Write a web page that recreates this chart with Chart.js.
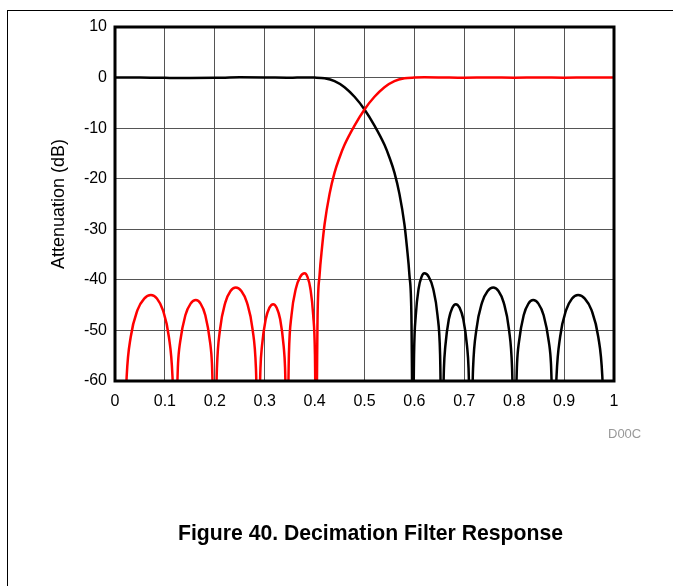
<!DOCTYPE html>
<html>
<head>
<meta charset="utf-8">
<script src="https://cdn.jsdelivr.net/npm/chart.js@4/dist/chart.umd.min.js"></script>
<style>
  body { margin: 0; background: #fff; }
  #wrap { position: relative; width: 673px; height: 586px; overflow: hidden; font-family: "Liberation Sans", Arial, sans-serif; }
  #frame { position: absolute; left: 7px; top: 10px; width: 700px; height: 600px; border-left: 1px solid #000; border-top: 1px solid #000; }
  #chart { position: absolute; left: 0; top: 0; }
  #code { position: absolute; left: 608px; top: 427px; font-size: 13px; line-height: 13px; color: #999; }
  #caption { position: absolute; left: 178px; top: 522px; font-size: 21.2px; line-height: 21px; font-weight: bold; white-space: nowrap; color: #000; }
</style>
</head>
<body>
<div id="wrap">
  <div id="frame"></div>
  <canvas id="chart" width="673" height="586"></canvas>
  <div id="code">D00C</div>
  <div id="caption">Figure 40. Decimation Filter Response</div>
</div>
<script>
// ---------------- data ---------------- //
var xTickLabels = ['0', '0.1', '0.2', '0.3', '0.4', '0.5', '0.6', '0.7', '0.8', '0.9', '1'];
var yTickLabels = ['-60', '-50', '-40', '-30', '-20', '-10', '0', '10'];

// black: passband response (normalized frequency, dB); notches go off the bottom of the scale
var blackFreq = [0, 0.05, 0.1, 0.15, 0.2, 0.25, 0.3, 0.35, 0.38, 0.4,
    0.42, 0.44, 0.46, 0.48, 0.5, 0.52, 0.54, 0.55, 0.56, 0.57, 0.58, 0.585, 0.59, 0.594, 0.597,
    0.5993, 0.6028, 0.6085, 0.6143, 0.620, 0.6288, 0.6375, 0.6463, 0.6515, 0.655,
    0.6592, 0.662, 0.669, 0.676, 0.683, 0.6905, 0.698, 0.7055, 0.7085, 0.713,
    0.7175, 0.7243, 0.7355, 0.7468, 0.758, 0.7685, 0.779, 0.7895, 0.7958, 0.800,
    0.8057, 0.8095, 0.819, 0.8285, 0.838, 0.8485, 0.859, 0.8695, 0.8737, 0.880,
    0.8848, 0.892, 0.904, 0.916, 0.928, 0.9415, 0.955, 0.9685, 0.9766, 0.982];
var blackDb = [0, 0.03, -0.05, -0.1, -0.06, 0.04, 0.02, -0.04, 0.03, 0,
    -0.15, -0.7, -1.9, -3.8, -6.3, -9.5, -13.3, -15.8, -18.8, -23, -29, -33.5, -39, -47, -75,
    -54.8, -47.0, -41.7, -39.4, -38.7, -39.4, -41.7, -47.0, -54.8, -75,
    -57.4, -53.1, -47.8, -45.5, -44.8, -45.5, -47.8, -53.1, -57.4, -75,
    -57.6, -49.8, -44.5, -42.2, -41.5, -42.2, -44.5, -49.8, -57.6, -75,
    -56.6, -52.3, -47.0, -44.7, -44.0, -44.7, -47.0, -52.3, -56.6, -75,
    -59.1, -51.3, -46.0, -43.7, -43.0, -43.7, -46.0, -51.3, -59.1, -75];

// red: image response
var redFreq = [0.018, 0.0234, 0.0315, 0.045, 0.0585, 0.072, 0.084, 0.096, 0.108, 0.1152, 0.120,
    0.1263, 0.1305, 0.141, 0.1515, 0.162, 0.1715, 0.181, 0.1905, 0.1943, 0.200,
    0.2042, 0.2105, 0.221, 0.2315, 0.242, 0.2532, 0.2645, 0.2757, 0.2825, 0.287,
    0.2915, 0.2945, 0.302, 0.3095, 0.317, 0.324, 0.331, 0.338, 0.3408, 0.345,
    0.3485, 0.3537, 0.3625, 0.3712, 0.380, 0.3857, 0.3915, 0.3972, 0.4007, 0.403,
    0.406, 0.41, 0.415, 0.42, 0.43, 0.44, 0.45, 0.46, 0.48, 0.5, 0.52, 0.54, 0.56, 0.58, 0.6,
    0.62, 0.65, 0.7, 0.75, 0.8, 0.85, 0.9, 0.95, 1.0];
var redDb = [-75, -59.1, -51.3, -46.0, -43.7, -43.0, -43.7, -46.0, -51.3, -59.1, -75,
    -56.6, -52.3, -47.0, -44.7, -44.0, -44.7, -47.0, -52.3, -56.6, -75,
    -57.6, -49.8, -44.5, -42.2, -41.5, -42.2, -44.5, -49.8, -57.6, -75,
    -57.4, -53.1, -47.8, -45.5, -44.8, -45.5, -47.8, -53.1, -57.4, -75,
    -54.8, -47.0, -41.7, -39.4, -38.7, -39.4, -41.7, -47.0, -54.8, -75,
    -47, -39, -33.5, -29, -23, -18.8, -15.8, -13.3, -9.5, -6.3, -3.8, -1.9, -0.7, -0.15, 0,
    0.05, 0.03, -0.03, 0.02, -0.03, 0.02, -0.02, 0.02, 0];

function toPoints(xs, ys) {
    return xs.map((x, i) => ({ x: x, y: ys[i] }));
}

// thick frame round the plot area
var frameBox = {
    id: 'frameBox',
    afterDatasetsDraw(chart) {
        var a = chart.chartArea, c = chart.ctx;
        c.save();
        c.strokeStyle = '#000';
        c.lineWidth = 3;
        c.strokeRect(a.left, a.top, a.right - a.left, a.bottom - a.top);
        c.restore();
    }
};

var tickFont = { family: 'Liberation Sans', size: 16 };

var ctx = document.getElementById('chart').getContext('2d');
var chart = new Chart(ctx, {
    type: 'line',
    data: {
        datasets: [{
            data: toPoints(redFreq, redDb),
            borderColor: '#ff0000',
            borderWidth: 2.5,
            pointRadius: 0,
            cubicInterpolationMode: 'monotone'
        }, {
            data: toPoints(blackFreq, blackDb),
            borderColor: '#000000',
            borderWidth: 2.5,
            pointRadius: 0,
            cubicInterpolationMode: 'monotone'
        }]
    },
    options: {
        responsive: false,
        devicePixelRatio: 1,
        animation: false,
        layout: { padding: { left: 0, top: 27, right: 59, bottom: 0 } },
        plugins: { legend: { display: false }, tooltip: { enabled: false } },
        scales: {
            x: {
                type: 'linear',
                min: 0,
                max: 1,
                afterFit: (s) => { s.height = 205; },
                ticks: {
                    stepSize: 0.1,
                    padding: 11,
                    color: '#000',
                    font: tickFont,
                    maxRotation: 0,
                    callback: (v, i) => xTickLabels[i]
                },
                grid: { color: '#555', lineWidth: 1, drawTicks: false },
                border: { display: false }
            },
            y: {
                min: -60,
                max: 10,
                afterFit: (s) => { s.width = 115; },
                ticks: {
                    stepSize: 10,
                    padding: 8,
                    color: '#000',
                    font: tickFont,
                    callback: (v, i) => yTickLabels[i]
                },
                grid: { color: '#555', lineWidth: 1, drawTicks: false },
                border: { display: false },
                title: {
                    display: true,
                    text: 'Attenuation (dB)',
                    color: '#000',
                    font: { family: 'Liberation Sans', size: 18 },
                    padding: { top: 48, bottom: 0 }
                }
            }
        }
    },
    plugins: [frameBox]
});
</script>
</body>
</html>
